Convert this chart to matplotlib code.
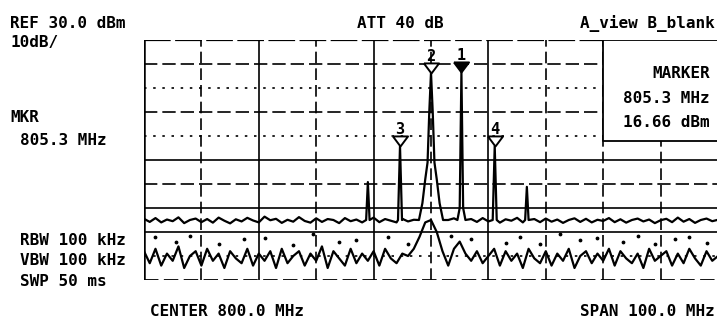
import numpy as np
import matplotlib
matplotlib.use('Agg')
import matplotlib.pyplot as plt

# figure size in pixels
W, H = 717, 326

# trace A noise floor, 750..850 MHz every 1 MHz (dBm)
noise_freq = np.linspace(750, 850, 101)
noise_dbm = [
    -44.5, -45.8, -44.2, -46.0, -44.8, -45.5, -43.9, -46.3, -45.0, -44.4,
    -45.9, -44.6, -46.1, -44.0, -45.3, -46.4, -44.7, -45.6, -44.1, -45.2,
    -46.0, -43.6, -45.1, -44.5, -46.2, -44.9, -45.7, -43.8, -45.4, -46.1,
    -44.3, -45.8, -44.6, -45.0, -46.3, -44.2, -45.5, -44.8, -46.0, -45.1,
    -44.0, -45.9, -44.6, -45.3, -46.0, -44.5, -45.6, -44.9, -45.2, -44.4,
    -44.8, -45.5, -46.2, -45.0, -44.3, -45.7, -45.1, -44.6, -45.8, -44.2,
    -45.6, -44.9, -46.1, -44.7, -45.3, -44.1, -46.0, -45.2, -44.6, -45.9,
    -44.4, -45.7, -44.8, -46.2, -45.0, -44.3, -45.8, -44.5, -46.0, -44.9,
    -45.4, -44.2, -45.9, -44.7, -46.1, -45.0, -44.4, -45.6, -44.8, -46.3,
    -45.1, -44.5, -45.9, -44.0, -45.7, -44.6, -46.2, -45.0, -44.4, -45.5,
    -44.9,
]

# trace B (lower, jagged), same frequencies
lower_dbm = [
    -58, -63, -57, -64, -59, -62, -56, -65, -60, -58,
    -64, -57, -62, -59, -65, -58, -61, -63, -57, -64,
    -59, -62, -58, -65, -57, -63, -60, -58, -64, -59,
    -62, -56, -65, -58, -61, -64, -57, -63, -59, -62,
    -58, -64, -57, -61, -63, -59, -60, -57, -52, -46,
    -45, -50, -58, -64, -57, -54, -59, -62, -58, -63,
    -60, -57, -64, -58, -62, -59, -65, -57, -61, -63,
    -58, -64, -59, -62, -57, -65, -60, -58, -63, -59,
    -62, -57, -64, -58, -61, -63, -59, -65, -57, -62,
    -60, -58, -64, -59, -63, -57, -61, -64, -58, -62,
    -60,
]

# specks between the two traces
speck_freq = [752, 755.5, 758, 763, 767.5, 771, 776, 779.5, 784, 787, 792.5, 796, 803.5,
              807, 813, 815.5, 819, 822.5, 826, 829, 833.5, 836, 839, 842.5, 845, 848]
speck_dbm = [-52, -54, -51.5, -55, -53, -52.5, -55.5, -51, -54, -53.5, -52, -55, -51.5,
             -53, -54.5, -52, -55, -51, -53.5, -52.5, -54, -51.5, -55, -53, -52, -54.5]

# signals on trace A
peak2_freq = [797.9, 798.5, 799.0, 799.4, 799.7, 800.0, 800.3, 800.6, 801.0, 801.5, 802.1]
peak2_dbm = [-45, -38, -28, -21, 0, 16.4, 0, -21, -28, -38, -45]
peak1_freq = [804.6, 805.0, 805.3, 805.6, 806.0]
peak1_dbm = [-45, -40, 16.66, -40, -45]
peak3_freq = [794.25, 794.6, 794.95]
peak3_dbm = [-45, -14.2, -45]
peak4_freq = [810.75, 811.1, 811.45]
peak4_dbm = [-45, -14.2, -45]
spur_a_freq = [788.7, 789.0, 789.3]
spur_a_dbm = [-45, -29.2, -45]
spur_b_freq = [816.4, 816.7, 817.0]
spur_b_dbm = [-45, -31.2, -45]

# markers
marker_labels = ['1', '2', '3', '4']
marker_freq = [805.3, 800.0, 794.6, 811.1]
marker_dbm = [16.66, 16.4, -14.2, -14.2]


def fx(x):
    return x / W


def fy(y):
    return 1 - y / H


fig = plt.figure(figsize=(W / 100, H / 100), dpi=100)
fig.patch.set_facecolor('white')
ax = fig.add_axes([144 / W, (H - 280) / H, 574 / W, 240 / H])
ax.set_xlim(750, 850)
ax.set_ylim(-70, 30)
ax.axis('off')

# graticule
v_lines = [760, 770, 780, 790, 800, 810, 820, 830, 840]
v_style = ['--', '-', '--', '-', '--', '-', '--', '--', '--']
for xv, ls in zip(v_lines, v_style):
    ax.axvline(xv, color='black', lw=1.2, ls=ls if ls == '-' else (0, (7, 3)), zorder=1)
h_lines = [20, 10, 0, -10, -20, -30, -40, -50, -60]
h_style = ['--', ':', '--', ':', '-', '--', '-', '-', ':']
for yh, ls in zip(h_lines, h_style):
    if ls == '-':
        dash = '-'
    elif ls == '--':
        dash = (0, (8, 3))
    else:
        dash = (0, (1.5, 4))
    ax.axhline(yh, color='black', lw=1.2, ls=dash, zorder=1)
ax.axvline(750, color='black', lw=1.8, zorder=1)
ax.axhline(30, color='black', lw=1.6, ls=(0, (12, 2)), zorder=1)
ax.axhline(-70, color='black', lw=1.3, ls=(0, (8, 3)), zorder=1)

# trace A with signals merged in
fa = list(noise_freq)
da = list(noise_dbm)
for pf, pdb in [(peak2_freq, peak2_dbm), (peak1_freq, peak1_dbm), (peak3_freq, peak3_dbm),
                (peak4_freq, peak4_dbm), (spur_a_freq, spur_a_dbm), (spur_b_freq, spur_b_dbm)]:
    keep = [(f, d) for f, d in zip(fa, da) if f < min(pf) or f > max(pf)]
    keep += list(zip(pf, pdb))
    keep.sort()
    fa = [k[0] for k in keep]
    da = [k[1] for k in keep]

ax.plot(noise_freq, lower_dbm, color='black', lw=1.6, zorder=3)
ax.scatter(speck_freq, speck_dbm, s=3, color='black', zorder=3)
ax.plot(fa, da, color='black', lw=1.6, zorder=4)

# marker readout box
ax.fill_between([830, 851], -12.1, 30, facecolor='white', edgecolor='black', lw=1.3, zorder=5)

# markers
tri = [(-0.75, 1.0), (0.75, 1.0), (0, 0), (-0.75, 1.0)]
for i, (lbl, f, d) in enumerate(zip(marker_labels, marker_freq, marker_dbm)):
    face = 'black' if i == 0 else 'white'
    ax.plot([f], [d], marker=tri, markersize=14.5, markerfacecolor=face,
            markeredgecolor='black', markeredgewidth=1.4, ls='none', zorder=6)
    ax.annotate(lbl, (f, d), xytext=(0, 8.5), textcoords='offset points', ha='center',
                va='baseline', fontsize=11, family='DejaVu Sans Mono', fontweight='bold', zorder=6)

# annotations around the screen
tk = dict(family='DejaVu Sans Mono', fontsize=11.5, fontweight='bold', color='black')
fig.text(fx(10), fy(28), 'REF 30.0 dBm', va='baseline', ha='left', **tk)
fig.text(fx(10), fy(47), '10dB/', va='baseline', ha='left', **tk)
fig.text(fx(357), fy(28), 'ATT 40 dB', va='baseline', ha='left', **tk)
fig.text(fx(715), fy(28), 'A_view B_blank', va='baseline', ha='right', **tk)
fig.text(fx(10), fy(122), 'MKR', va='baseline', ha='left', **tk)
fig.text(fx(20), fy(145), '805.3 MHz', va='baseline', ha='left', **tk)
fig.text(fx(20), fy(245), 'RBW 100 kHz', va='baseline', ha='left', **tk)
fig.text(fx(20), fy(265), 'VBW 100 kHz', va='baseline', ha='left', **tk)
fig.text(fx(20), fy(286), 'SWP 50 ms', va='baseline', ha='left', **tk)
fig.text(fx(150), fy(316), 'CENTER 800.0 MHz', va='baseline', ha='left', **tk)
fig.text(fx(715), fy(316), 'SPAN 100.0 MHz', va='baseline', ha='right', **tk)
fig.text(fx(710), fy(78), 'MARKER', va='baseline', ha='right', zorder=7, **tk)
fig.text(fx(710), fy(103), '805.3 MHz', va='baseline', ha='right', zorder=7, **tk)
fig.text(fx(710), fy(127), '16.66 dBm', va='baseline', ha='right', zorder=7, **tk)

fig.savefig('out.png', dpi=100, facecolor='white')
